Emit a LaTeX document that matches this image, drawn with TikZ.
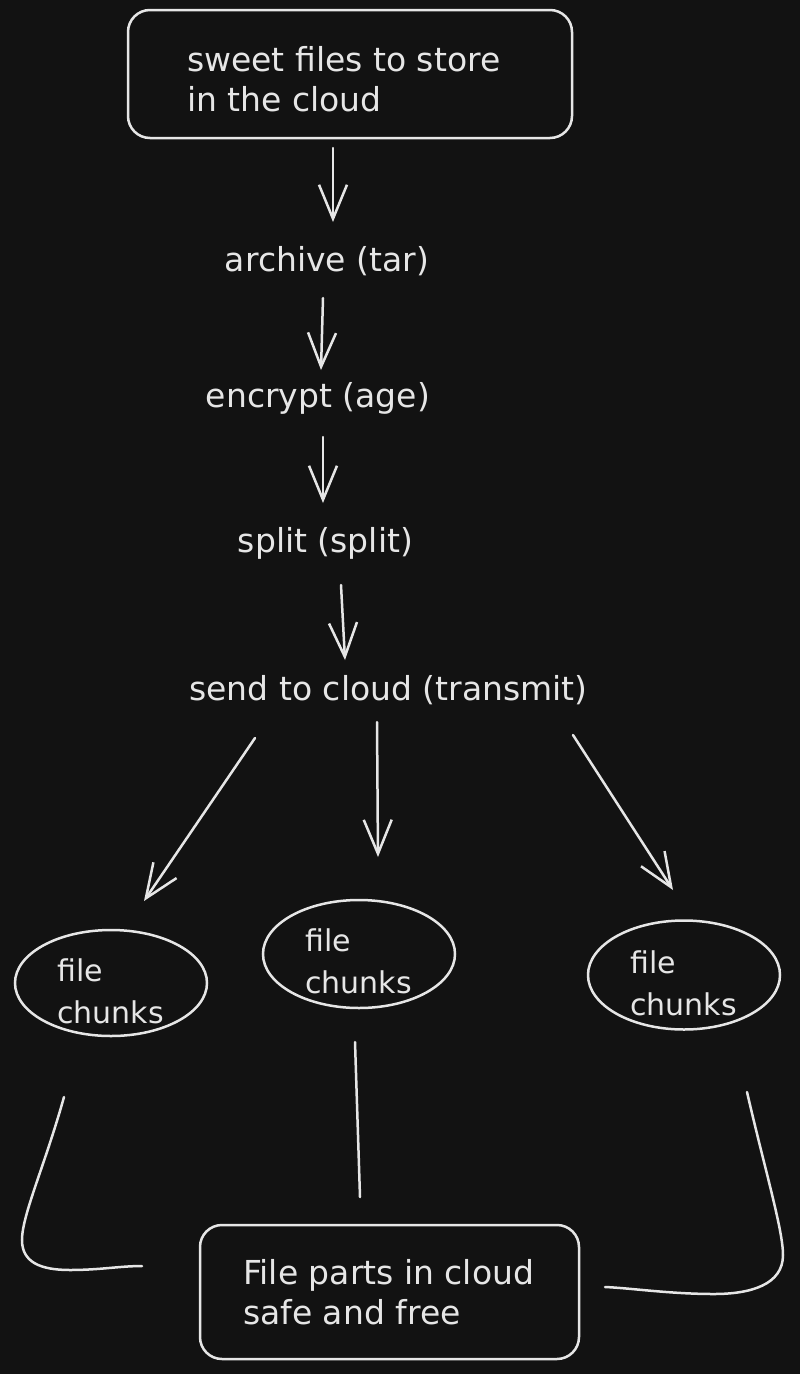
\documentclass[tikz,border=0pt]{standalone}
\usepackage{fontspec}
\setmainfont{DejaVu Sans}
\usetikzlibrary{arrows.meta,shapes.geometric}
\definecolor{bg}{HTML}{121212}
\definecolor{ink}{HTML}{E6E6E6}
\begin{document}
\begin{tikzpicture}[x=1pt,y=-1pt,
  every node/.style={text=ink,font=\fontsize{33}{40}\selectfont},
  roundbox/.style={draw=ink,line width=2.5pt,rounded corners=22pt,inner sep=0pt},
  chunk/.style={draw=ink,line width=2.5pt,ellipse,inner sep=0pt},
  label/.style={inner sep=0pt},
  blocktext/.style={inner sep=0pt,align=left,anchor=west},
  chunktext/.style={inner sep=0pt,align=left,anchor=west,font=\fontsize{30}{42}\selectfont},
  arr/.style={draw=ink,line width=2.5pt,line cap=round,-{Straight Barb[length=34pt,width=28pt,line width=2.5pt]}},
  link/.style={draw=ink,line width=2.5pt,line cap=round}]
\fill[bg] (0,0) rectangle (800,1374);
\useasboundingbox (0,0) rectangle (800,1374);

\node[roundbox,minimum width=444pt,minimum height=128pt] (top) at (350,74) {};
\node[blocktext] (toptext) at (187,79) {sweet files to store\\in the cloud};
\node[label] (archive) at (327,261) {archive (tar)};
\node[label] (encrypt) at (318,398) {encrypt (age)};
\node[label] (split) at (325.5,543) {split (split)};
\node[label] (send) at (388.5,690) {send to cloud (transmit)};

\node[chunk,minimum width=192pt,minimum height=106pt] (c1) at (111,983) {};
\node[chunk,minimum width=192pt,minimum height=108pt] (c2) at (359,954) {};
\node[chunk,minimum width=192pt,minimum height=109pt] (c3) at (684,975) {};
\node[chunktext] (t1) at (57,991) {file\\chunks};
\node[chunktext] (t2) at (305,961) {file\\chunks};
\node[chunktext] (t3) at (630,983) {file\\chunks};

\node[roundbox,minimum width=379pt,minimum height=134pt] (bot) at (389.5,1292) {};
\node[blocktext] (bottext) at (243,1292) {File parts in cloud\\safe and free};

% arrow end points
\coordinate (a1s) at (333,148); \coordinate (a1e) at (333,222);
\coordinate (a2s) at (323,298); \coordinate (a2e) at (321,370);
\coordinate (a3s) at (323,437); \coordinate (a3e) at (323,503);
\coordinate (a4s) at (341,585); \coordinate (a4e) at (345,660);
\coordinate (b1s) at (255,738); \coordinate (b1e) at (144,901);
\coordinate (b2s) at (377,722); \coordinate (b2e) at (378,857);
\coordinate (b3s) at (573,735); \coordinate (b3e) at (673,890);

\draw[arr] (a1s) -- (a1e);
\draw[arr] (a2s) -- (a2e);
\draw[arr] (a3s) -- (a3e);
\draw[arr] (a4s) -- (a4e);
\draw[arr] (b1s) -- (b1e);
\draw[arr] (b2s) -- (b2e);
\draw[arr] (b3s) -- (b3e);

% links to the cloud box
\coordinate (l1s) at (64,1097); \coordinate (l1e) at (142,1266);
\coordinate (l2s) at (355,1042); \coordinate (l2e) at (360,1197);
\coordinate (l3s) at (747,1092); \coordinate (l3e) at (605,1287);
\draw[link] (l1s) .. controls (45,1165) and (22,1215) .. (22,1240)
  .. controls (22,1262) and (40,1270) .. (70,1270) .. controls (100,1270) and (120,1266) .. (l1e);
\draw[link] (l2s) -- (l2e);
\draw[link] (l3s) .. controls (765,1170) and (783,1230) .. (783,1255)
  .. controls (783,1285) and (750,1294) .. (714,1294) .. controls (670,1294) and (630,1288) .. (l3e);
\end{tikzpicture}
\end{document}
